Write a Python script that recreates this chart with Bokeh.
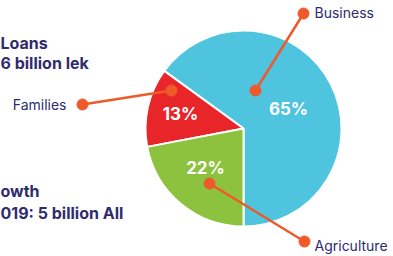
import numpy as np
from bokeh.plotting import figure
from bokeh.models import Range1d, ColumnDataSource
from bokeh.core.properties import value
from bokeh.embed import file_html
from bokeh.resources import INLINE

# data
categories = ["Business", "Families", "Agriculture"]
shares = [65, 13, 22]
colors = ["#4FC4DF", "#E8262A", "#8DC23F"]
pct_labels = ["65%", "13%", "22%"]
side_lines = ["Loans", "6 billion lek", "owth", "019: 5 billion All"]

W, H = 393, 256

def X(x):
    return x

def Y(y):
    return H - y

p = figure(width=W, height=H, output_backend="svg", toolbar_location=None,
           x_range=Range1d(0, W), y_range=Range1d(0, H), min_border=0)
p.axis.visible = False
p.grid.visible = False
p.outline_line_color = None
p.background_fill_color = "white"
p.border_fill_color = "white"

cx, cy, r = X(243), Y(128), 98
frac = np.array(shares) / np.sum(shares)
ends = -np.pi / 2 + np.cumsum(frac) * 2 * np.pi
starts = np.concatenate([[-np.pi / 2], ends[:-1]])
src = ColumnDataSource(dict(start=starts, end=ends, color=colors))
p.wedge(x=cx, y=cy, radius=r, start_angle="start", end_angle="end",
        fill_color="color", line_color="white", line_width=2, source=src)

# percent labels
px = [X(288), X(180), X(205)]
py = [Y(108), Y(113), Y(167)]
p.text(x=px, y=py, text=pct_labels, text_color="white", text_font=value("Inter"),
       text_font_style="bold", text_font_size="17px", text_align="center",
       text_baseline="middle")

# leaders
orange = "#EE5A2A"
inner = [(X(255), Y(90)), (X(171), Y(90)), (X(209), Y(183))]
outer = [(X(303), Y(13)), (X(82), Y(104)), (X(304), Y(241))]
for (a, b), (c, d) in zip(inner, outer):
    p.line([a, c], [b, d], line_color=orange, line_width=2.5)
p.scatter([i[0] for i in inner] + [o[0] for o in outer],
          [i[1] for i in inner] + [o[1] for o in outer],
          size=11, fill_color=orange, line_color=orange)

navy = "#2E2B6E"
p.text(x=[X(314), X(314)], y=[Y(12), Y(245)], text=[categories[0], categories[2]],
       text_color=navy, text_font=value("Inter"), text_font_size="14px",
       text_align="left", text_baseline="middle")
p.text(x=[X(66)], y=[Y(104)], text=[categories[1]],
       text_color=navy, text_font=value("Inter"), text_font_size="14px",
       text_align="right", text_baseline="middle")

# side texts
p.text(x=[0, 0, 0, 0], y=[Y(42), Y(62), Y(190), Y(212)], text=side_lines,
       text_color=navy, text_font=value("Inter"), text_font_style="bold",
       text_font_size="16px", text_align="left", text_baseline="middle")

open("out.html", "w").write(file_html(p, INLINE))
